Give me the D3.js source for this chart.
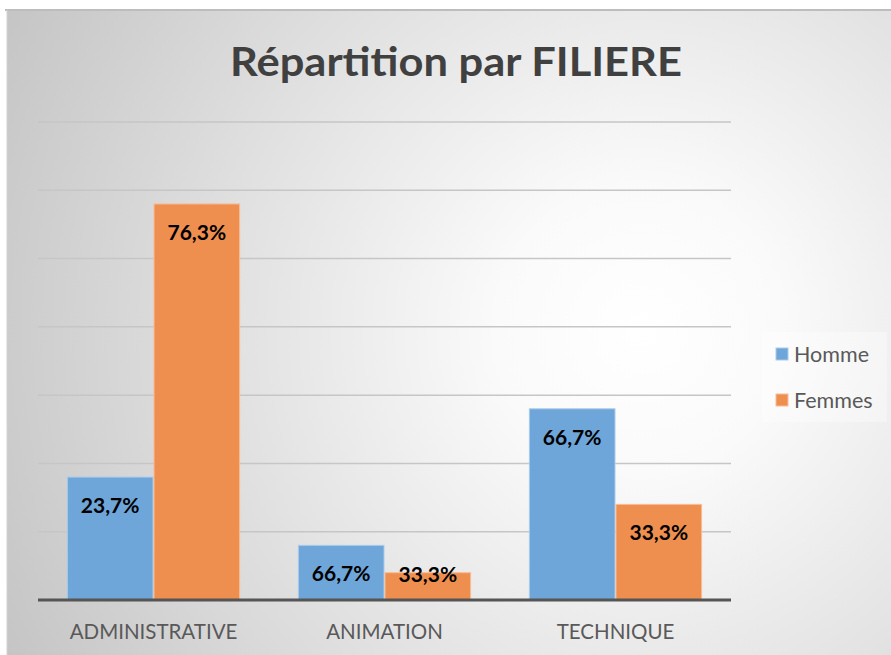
<!DOCTYPE html>
<html>
<head>
<meta charset="utf-8">
<script src="https://cdn.jsdelivr.net/npm/d3@7"></script>
<style>
  body { margin: 0; background: #fff; }
  svg { display: block; }
</style>
</head>
<body>
<svg id="chart" width="891" height="655"></svg>
<script>
// data (bar heights are counts, labels are shares)
var categories = ['ADMINISTRATIVE', 'ANIMATION', 'TECHNIQUE'];
var series = ['Homme', 'Femmes'];
var hommeValues = [9, 4, 14];
var femmesValues = [29, 2, 7];
var hommeLabels = ['23,7%', '66,7%', '66,7%'];
var femmesLabels = ['76,3%', '33,3%', '33,3%'];
var yTicks = [0, 5, 10, 15, 20, 25, 30, 35];

var colors = { Homme: '#6fa6d9', Femmes: '#ef8f4f' };
var strokes = { Homme: '#a9cbeb', Femmes: '#f6bd97' };

var svg = d3.select('#chart');
var width = 891, height = 655;
var margin = { top: 122, bottom: 55, left: 38, right: 160 };

// background
var defs = svg.append('defs');
var grad = defs.append('radialGradient')
    .attr('id', 'bg')
    .attr('gradientUnits', 'userSpaceOnUse')
    .attr('cx', 640).attr('cy', 330).attr('r', 720);
grad.append('stop').attr('offset', '0').attr('stop-color', '#ffffff');
grad.append('stop').attr('offset', '0.2').attr('stop-color', '#fafafa');
grad.append('stop').attr('offset', '1').attr('stop-color', '#c4c4c4');

svg.append('rect')
    .attr('x', 7).attr('y', 10)
    .attr('width', width - 7).attr('height', height - 10)
    .attr('fill', 'url(#bg)');
svg.append('line')
    .attr('x1', 5).attr('x2', width)
    .attr('y1', 10).attr('y2', 10)
    .attr('stroke', '#bdbdbd').attr('stroke-width', 2);
svg.append('line')
    .attr('x1', 7).attr('x2', 7)
    .attr('y1', 10).attr('y2', height)
    .attr('stroke', '#d2d2d2').attr('stroke-width', 1);

// title
svg.append('text')
    .attr('x', 456).attr('y', 76)
    .attr('text-anchor', 'middle')
    .attr('font-family', 'Lato, "Open Sans", sans-serif')
    .attr('font-weight', 'bold')
    .attr('font-size', 40)
    .attr('fill', '#404040')
    .attr('textLength', 452)
    .attr('lengthAdjust', 'spacingAndGlyphs')
    .text('Répartition par FILIERE');

var x0 = d3.scaleBand()
    .domain(categories)
    .range([margin.left, width - margin.right])
    .paddingInner(0.25)
    .paddingOuter(0.125);

var x1 = d3.scaleBand()
    .domain(series)
    .range([0, x0.bandwidth()]);

var y = d3.scaleLinear()
    .domain([0, 35])
    .range([height - margin.bottom, margin.top]);

// gridlines
svg.append('g')
    .selectAll('line')
    .data(yTicks.slice(1))
    .enter().append('line')
    .attr('x1', margin.left).attr('x2', width - margin.right)
    .attr('y1', function (d) { return y(d); })
    .attr('y2', function (d) { return y(d); })
    .attr('stroke', '#c6c6c6')
    .attr('stroke-width', 1.5);

// bars
var rows = categories.map(function (c, i) {
    return {
        cat: c,
        values: [
            { key: 'Homme', value: hommeValues[i], label: hommeLabels[i] },
            { key: 'Femmes', value: femmesValues[i], label: femmesLabels[i] }
        ]
    };
});

var groups = svg.append('g')
    .selectAll('g')
    .data(rows)
    .enter().append('g')
    .attr('transform', function (d) { return 'translate(' + x0(d.cat) + ',0)'; });

groups.selectAll('rect')
    .data(function (d) { return d.values; })
    .enter().append('rect')
    .attr('x', function (d) { return x1(d.key) + 0.5; })
    .attr('width', x1.bandwidth() - 1)
    .attr('y', function (d) { return y(d.value); })
    .attr('height', function (d) { return y(0) - y(d.value); })
    .attr('fill', function (d) { return colors[d.key]; })
    .attr('stroke', function (d) { return strokes[d.key]; })
    .attr('stroke-width', 1);

groups.selectAll('text')
    .data(function (d) { return d.values; })
    .enter().append('text')
    .attr('x', function (d) { return x1(d.key) + x1.bandwidth() / 2; })
    .attr('y', function (d) { return Math.min(y(d.value) + 36, y(0) - 18); })
    .attr('text-anchor', 'middle')
    .attr('font-family', 'Lato, "Open Sans", sans-serif')
    .attr('font-weight', 'bold')
    .attr('font-size', 21)
    .attr('fill', '#000')
    .text(function (d) { return d.label; });

// baseline
svg.append('line')
    .attr('x1', margin.left).attr('x2', width - margin.right)
    .attr('y1', y(0)).attr('y2', y(0))
    .attr('stroke', '#555555')
    .attr('stroke-width', 3);

// category axis
var xAxis = svg.append('g')
    .attr('transform', 'translate(0,' + y(0) + ')')
    .call(d3.axisBottom(x0).tickSize(0).tickPadding(24));
xAxis.select('.domain').remove();
xAxis.selectAll('text')
    .attr('font-family', 'Lato, "Open Sans", sans-serif')
    .attr('font-size', 20.5)
    .attr('fill', '#595959');

// legend
var legend = svg.append('g');
legend.append('rect')
    .attr('x', 762).attr('y', 332)
    .attr('width', 125).attr('height', 90)
    .attr('fill', '#ffffff').attr('fill-opacity', 0.35);

var items = legend.selectAll('g.item')
    .data(series)
    .enter().append('g')
    .attr('class', 'item')
    .attr('transform', function (d, i) { return 'translate(776,' + (354 + i * 46) + ')'; });
items.append('rect')
    .attr('x', 0).attr('y', -6)
    .attr('width', 12).attr('height', 12)
    .attr('fill', function (d) { return colors[d]; })
    .attr('stroke', function (d) { return strokes[d]; });
items.append('text')
    .attr('x', 18).attr('y', 8)
    .attr('font-family', 'Lato, "Open Sans", sans-serif')
    .attr('font-size', 21.5)
    .attr('fill', '#595959')
    .text(function (d) { return d; });
</script>
</body>
</html>
